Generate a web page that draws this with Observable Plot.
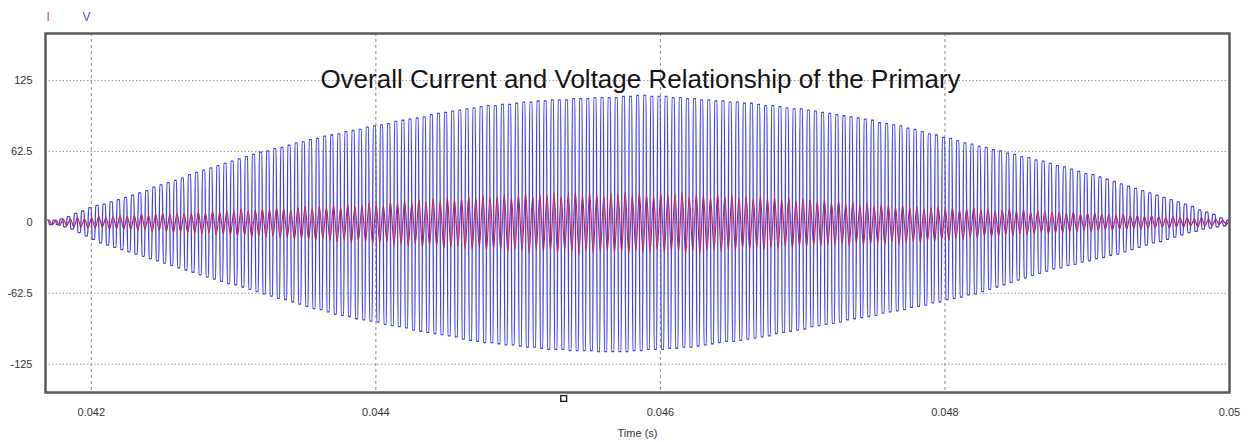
<!DOCTYPE html>
<html>
<head>
<meta charset="utf-8">
<script src="https://cdn.jsdelivr.net/npm/d3@7"></script>
<script src="https://cdn.jsdelivr.net/npm/@observablehq/plot@0.6"></script>
<style>
  html, body { margin: 0; padding: 0; background: #fff; }
  #chart svg { display: block; }
</style>
</head>
<body>
<div id="chart"></div>
<script>
// ---- Data ----
const chartTitle = "Overall Current and Voltage Relationship of the Primary";
const xAxisLabel = "Time (s)";
const seriesNames = ["I", "V"];
const xTicks = [0.042, 0.044, 0.046, 0.048, 0.05];
const xTickLabels = ["0.042", "0.044", "0.046", "0.048", "0.05"];
const yTicks = [-125, -62.5, 0, 62.5, 125];
const yTickLabels = ["-125", "-62.5", "0", "62.5", "125"];
const cursorTime = [0.04532];

// sampled waveform: one positive and one negative peak per cycle
const sampleStart = 0.04169;   // s, centre of first positive peak
const cyclePeriod = 0.00005;   // s (about 20 kHz)
const currentLag = 0.0000125;  // s, current peaks lag voltage peaks
const plateau = 0.18;          // voltage peaks are flat-topped (fraction of a cycle each side of centre)

// Voltage: positive peak per cycle
const vTop = [
  2, 2, 3, 5, 8, 10, 13, 15, 16, 18,
  20, 22, 24, 26, 28, 31, 33, 35, 37, 39,
  42, 44, 46, 48, 50, 52, 54, 56, 58, 60,
  62, 63, 65, 66, 68, 70, 71, 73, 74, 76,
  77, 78, 80, 81, 82, 84, 85, 86, 87, 89,
  90, 91, 92, 93, 95, 96, 97, 98, 99, 100,
  101, 102, 103, 103, 104, 104, 105, 106, 106, 107,
  107, 108, 108, 108, 109, 109, 109, 110, 110, 110,
  110, 111, 111, 112, 112, 111, 111, 111, 110, 110,
  109, 109, 108, 108, 107, 107, 106, 106, 105, 105,
  104, 103, 103, 102, 101, 100, 100, 99, 98, 97,
  96, 95, 94, 93, 92, 91, 90, 88, 87, 86,
  85, 83, 82, 80, 78, 77, 75, 74, 72, 70,
  69, 67, 66, 64, 63, 61, 60, 58, 57, 55,
  54, 52, 50, 49, 47, 45, 43, 42, 40, 38,
  36, 34, 32, 30, 28, 26, 24, 22, 20, 18,
  16, 14, 11, 9, 7, 4, 2
];
// Voltage: negative peak magnitude per cycle
const vBottom = [
  2, 2, 4, 6, 9, 12, 15, 18, 20, 22,
  24, 26, 28, 30, 32, 34, 36, 38, 40, 42,
  44, 46, 48, 50, 52, 54, 55, 57, 59, 61,
  63, 65, 67, 68, 70, 72, 74, 76, 77, 79,
  81, 82, 83, 85, 86, 87, 88, 90, 91, 92,
  93, 95, 96, 97, 98, 99, 100, 101, 103, 104,
  105, 106, 106, 107, 108, 108, 109, 110, 110, 111,
  112, 112, 112, 113, 113, 113, 113, 114, 114, 114,
  114, 114, 113, 113, 112, 112, 112, 111, 111, 110,
  110, 109, 108, 107, 106, 105, 105, 104, 103, 102,
  101, 100, 98, 97, 96, 95, 94, 92, 91, 90,
  89, 88, 86, 85, 84, 83, 82, 80, 79, 78,
  77, 75, 74, 73, 71, 70, 68, 67, 66, 64,
  63, 61, 59, 57, 55, 53, 51, 49, 47, 45,
  43, 41, 40, 38, 37, 35, 34, 32, 31, 29,
  28, 26, 24, 22, 20, 18, 17, 15, 13, 11,
  9, 8, 6, 5, 4, 3, 2
];
// Current: positive peak per cycle
const iTop = [
  2, 2, 3, 3, 4, 3, 4, 5, 4, 5,
  6, 5, 6, 7, 6, 7, 8, 7, 8, 8,
  8, 9, 8, 10, 9, 10, 10, 12, 10, 11,
  12, 11, 13, 12, 11, 13, 14, 12, 14, 13,
  15, 13, 16, 14, 15, 17, 16, 15, 18, 17,
  19, 17, 20, 18, 21, 19, 22, 20, 21, 23,
  21, 24, 22, 23, 25, 22, 24, 26, 23, 25,
  24, 26, 23, 25, 27, 24, 26, 25, 23, 26,
  25, 27, 24, 26, 25, 23, 26, 24, 25, 27,
  23, 25, 24, 22, 25, 23, 24, 22, 23, 21,
  23, 21, 22, 20, 22, 19, 21, 20, 18, 20,
  17, 19, 16, 18, 15, 17, 14, 16, 15, 13,
  15, 13, 14, 12, 13, 14, 12, 13, 11, 12,
  13, 11, 12, 10, 11, 12, 10, 11, 9, 10,
  10, 9, 9, 8, 9, 7, 8, 8, 7, 7,
  6, 7, 6, 6, 5, 6, 5, 4, 5, 4,
  4, 3, 4, 3, 3, 2, 2
];
// Current: negative peak magnitude per cycle
const iBottom = [
  2, 3, 3, 4, 4, 5, 5, 4, 6, 5,
  6, 6, 7, 6, 8, 7, 8, 9, 8, 9,
  9, 10, 9, 11, 10, 11, 12, 11, 13, 12,
  13, 12, 14, 13, 15, 14, 15, 16, 14, 16,
  17, 15, 18, 16, 17, 19, 18, 17, 20, 19,
  21, 19, 22, 20, 21, 23, 22, 21, 23, 24,
  22, 25, 23, 24, 26, 24, 25, 27, 24, 26,
  25, 27, 24, 26, 28, 25, 27, 26, 25, 27,
  26, 28, 25, 27, 26, 24, 27, 25, 26, 28,
  25, 27, 25, 24, 26, 24, 25, 23, 24, 22,
  24, 22, 23, 21, 23, 21, 22, 20, 21, 19,
  20, 19, 21, 18, 20, 19, 18, 20, 17, 19,
  18, 17, 18, 16, 17, 15, 16, 14, 15, 13,
  14, 12, 13, 12, 11, 12, 10, 11, 10, 9,
  10, 9, 9, 8, 8, 7, 8, 7, 6, 7,
  6, 6, 5, 6, 5, 5, 4, 5, 4, 4,
  3, 4, 3, 3, 2, 2, 2
];

// ---- Build tables ----
function peaks(tops, bottoms, offset, flat) {
  const out = [];
  const halves = flat ? [-flat, flat] : [0];
  tops.forEach((a, k) => {
    for (const h of halves) out.push({t: sampleStart + offset + (k + h) * cyclePeriod, v: a});
    for (const h of halves) out.push({t: sampleStart + offset + (k + 0.5 + h) * cyclePeriod, v: -bottoms[k]});
  });
  return out;
}
const voltage = peaks(vTop, vBottom, 0, plateau);
const current = peaks(iTop, iBottom, currentLag, 0);

const xLab = new Map(xTicks.map((d, i) => [d, xTickLabels[i]]));
const yLab = new Map(yTicks.map((d, i) => [d, yTickLabels[i]]));
const colors = {I: "#c81c48", V: "#4343e2"};
const legendColors = {I: "#e0405e", V: "#5050d8"};

const legendMarks = seriesNames.map((name, i) =>
  Plot.text([name], {frameAnchor: "top-left", text: d => d, dx: i === 0 ? 1 : 37, dy: -13,
    lineAnchor: "bottom", textAnchor: "start", fontSize: 12, fill: legendColors[name]}));

const chart = Plot.plot({
  width: 1248,
  height: 442,
  marginTop: 33,
  marginBottom: 50,
  marginLeft: 45,
  marginRight: 19,
  style: {fontFamily: "'Liberation Sans', Arial, sans-serif", fontSize: "11px", color: "#333", background: "#fff"},
  x: {domain: [0.041678, 0.05], ticks: xTicks, tickFormat: d => xLab.get(d), tickSize: 0, tickPadding: 16, label: null},
  y: {domain: [-150, 166.5], ticks: yTicks, tickFormat: d => yLab.get(d), tickSize: 0, tickPadding: 13, label: null},
  marks: [
    Plot.ruleY(yTicks, {stroke: "#9a9a9a", strokeWidth: 1, strokeDasharray: "1.5,2"}),
    Plot.ruleX(xTicks, {stroke: "#8a8a8a", strokeWidth: 1, strokeDasharray: "3,3"}),
    Plot.line(voltage, {x: "t", y: "v", stroke: colors.V, strokeWidth: 1.3, curve: "monotone-x", clip: true}),
    Plot.line(current, {x: "t", y: "v", stroke: colors.I, strokeWidth: 1.15, curve: "monotone-x", clip: true}),
    Plot.frame({stroke: "#5a5a5a", strokeWidth: 2.5}),
    Plot.dot(cursorTime, {x: d => d, frameAnchor: "bottom", dy: 6, symbol: "square", r: 3.3, stroke: "#111", strokeWidth: 1.3, fill: "#fff"}),
    Plot.text([chartTitle], {frameAnchor: "top", text: d => d, dx: 3, dy: 36.5, fontSize: 26, fill: "#151515", lineAnchor: "top"}),
    Plot.text([xAxisLabel], {frameAnchor: "bottom", text: d => d, dy: 44, lineAnchor: "bottom", fontSize: 11, fill: "#333"}),
    ...legendMarks
  ]
});
document.getElementById("chart").append(chart);
</script>
</body>
</html>
